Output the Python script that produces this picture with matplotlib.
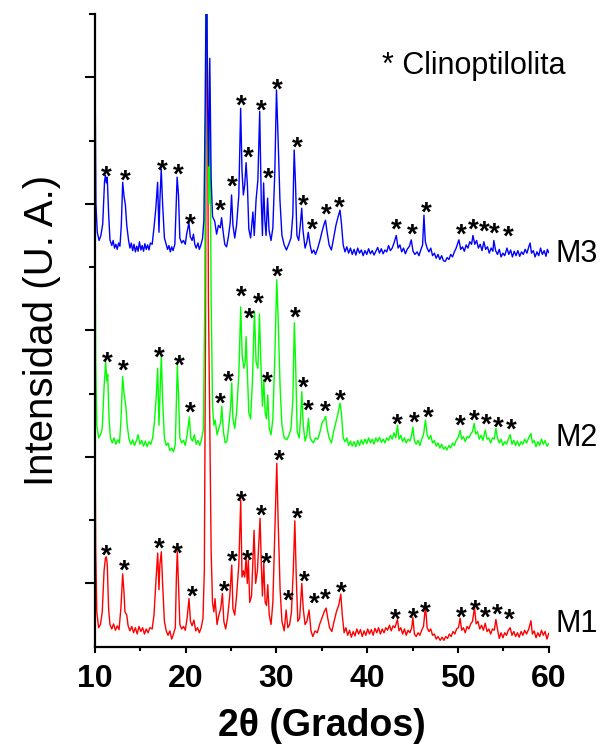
"""
DRX de las muestras M1, M2 y M3 con los picos de clinoptilolita marcados.
"""
# Imports ---------------------------------------------------------------------

import numpy as np
import matplotlib
matplotlib.use("Agg")
import matplotlib.pyplot as plt
from matplotlib.ticker import FixedLocator
from matplotlib.transforms import offset_copy

plt.rcParams['font.family'] = ['Liberation Sans', 'DejaVu Sans']

# Data (2theta in degrees, intensity in stacked arbitrary units) ---------------

m3_pts = [
    (10.00, 9.30), (10.10, 7.00), (10.25, 6.55), (10.45, 6.42), (10.65, 6.50),
    (10.85, 6.68), (11.05, 7.35), (11.15, 7.45), (11.25, 7.33), (11.35, 7.42),
    (11.50, 6.85), (11.65, 6.43), (11.85, 6.34), (12.00, 6.42), (12.15, 6.30),
    (12.30, 6.36), (12.45, 6.28), (12.60, 6.38), (12.75, 6.33), (12.90, 6.66),
    (13.05, 7.34), (13.20, 7.12), (13.35, 6.98), (13.50, 6.66), (13.70, 6.42),
    (13.85, 6.30), (14.00, 6.38), (14.15, 6.26), (14.30, 6.36), (14.45, 6.24),
    (14.60, 6.33), (14.75, 6.25), (14.90, 6.40), (15.05, 6.27), (15.20, 6.34),
    (15.35, 6.25), (15.50, 6.37), (15.65, 6.28), (15.80, 6.35), (15.95, 6.27),
    (16.10, 6.38), (16.30, 6.36), (16.50, 6.62), (16.70, 6.92), (16.90, 7.34),
    (17.05, 6.55), (17.15, 7.05), (17.30, 7.55), (17.45, 7.00), (17.65, 6.46),
    (17.85, 6.36), (18.00, 6.28), (18.15, 6.34), (18.30, 6.24), (18.45, 6.32),
    (18.60, 6.26), (18.80, 6.36), (18.95, 7.00), (19.05, 7.42), (19.20, 7.14),
    (19.35, 6.46), (19.55, 6.38), (19.75, 6.42), (19.95, 6.36), (20.10, 6.52),
    (20.35, 6.70), (20.50, 6.48), (20.70, 6.42), (20.85, 6.52), (21.00, 6.36),
    (21.15, 6.30), (21.35, 6.38), (21.50, 6.28), (21.65, 6.34), (21.85, 6.45),
    (22.00, 6.74), (22.15, 8.60), (22.28, 11.0), (22.42, 8.50), (22.52, 7.60),
    (22.65, 9.30), (22.80, 7.40), (22.95, 6.80), (23.20, 6.72), (23.40, 6.52),
    (23.60, 6.66), (23.80, 6.62), (23.95, 6.78), (24.10, 6.58), (24.30, 6.36),
    (24.50, 6.32), (24.70, 6.48), (24.90, 6.70), (25.05, 7.14), (25.20, 6.66),
    (25.40, 6.46), (25.60, 6.66), (25.85, 7.14), (26.05, 8.51), (26.20, 7.52),
    (26.35, 7.14), (26.50, 7.30), (26.65, 7.65), (26.80, 7.28), (26.95, 6.60),
    (27.15, 6.46), (27.40, 6.87), (27.55, 6.50), (27.75, 7.06), (27.95, 7.38),
    (28.15, 8.46), (28.32, 7.06), (28.45, 6.50), (28.58, 7.33), (28.72, 6.74),
    (28.85, 6.50), (29.02, 7.09), (29.18, 6.58), (29.40, 6.42), (29.60, 6.62),
    (29.82, 7.53), (30.00, 8.80), (30.15, 8.15), (30.38, 7.06), (30.60, 6.50),
    (30.85, 6.35), (31.10, 6.27), (31.35, 6.36), (31.60, 6.46), (31.80, 6.82),
    (31.95, 7.85), (32.10, 7.30), (32.25, 6.50), (32.45, 6.42), (32.62, 6.66),
    (32.78, 6.93), (32.92, 6.58), (33.15, 6.30), (33.35, 6.40), (33.50, 6.55),
    (33.70, 6.35), (33.90, 6.22), (34.10, 6.27), (34.30, 6.20), (34.55, 6.30),
    (34.80, 6.43), (35.00, 6.55), (35.25, 6.68), (35.40, 6.74), (35.55, 6.58),
    (35.80, 6.35), (36.05, 6.27), (36.30, 6.46), (36.55, 6.66), (36.80, 6.80),
    (37.00, 6.90), (37.15, 6.70), (37.35, 6.35), (37.55, 6.24), (37.75, 6.32),
    (37.95, 6.22), (38.15, 6.30), (38.35, 6.20), (38.55, 6.28), (38.75, 6.19),
    (38.95, 6.30), (39.15, 6.22), (39.35, 6.27), (39.55, 6.18), (39.75, 6.26),
    (39.95, 6.20), (40.15, 6.29), (40.35, 6.21), (40.55, 6.26), (40.75, 6.19),
    (40.95, 6.25), (41.15, 6.31), (41.35, 6.22), (41.55, 6.29), (41.75, 6.21),
    (41.95, 6.27), (42.15, 6.24), (42.35, 6.34), (42.55, 6.26), (42.75, 6.30),
    (42.95, 6.38), (43.20, 6.50), (43.40, 6.30), (43.60, 6.35), (43.80, 6.24),
    (44.00, 6.30), (44.20, 6.21), (44.40, 6.28), (44.65, 6.33), (44.85, 6.43),
    (45.05, 6.25), (45.25, 6.20), (45.50, 6.24), (45.70, 6.18), (45.90, 6.27),
    (46.10, 6.35), (46.25, 6.82), (46.40, 6.40), (46.60, 6.30), (46.80, 6.24),
    (47.00, 6.30), (47.20, 6.18), (47.40, 6.22), (47.60, 6.14), (47.80, 6.20),
    (48.00, 6.12), (48.20, 6.18), (48.40, 6.10), (48.60, 6.09), (48.80, 6.15),
    (49.00, 6.12), (49.20, 6.20), (49.40, 6.16), (49.60, 6.24), (49.80, 6.30),
    (50.10, 6.43), (50.30, 6.28), (50.50, 6.32), (50.70, 6.25), (50.90, 6.35),
    (51.10, 6.30), (51.30, 6.40), (51.50, 6.36), (51.65, 6.50), (51.85, 6.36),
    (52.05, 6.42), (52.25, 6.30), (52.45, 6.36), (52.65, 6.26), (52.85, 6.40),
    (53.05, 6.28), (53.25, 6.32), (53.45, 6.22), (53.65, 6.30), (53.85, 6.25),
    (53.95, 6.42), (54.15, 6.26), (54.35, 6.20), (54.55, 6.28), (54.75, 6.16),
    (54.95, 6.22), (55.15, 6.18), (55.40, 6.30), (55.60, 6.20), (55.80, 6.27),
    (56.00, 6.16), (56.20, 6.25), (56.40, 6.18), (56.60, 6.26), (56.80, 6.17),
    (57.00, 6.24), (57.20, 6.20), (57.40, 6.28), (57.60, 6.22), (57.80, 6.32),
    (57.95, 6.38), (58.10, 6.22), (58.30, 6.26), (58.50, 6.16), (58.70, 6.24),
    (58.90, 6.18), (59.10, 6.30), (59.30, 6.20), (59.50, 6.26), (59.70, 6.17),
    (59.85, 6.28), (60.00, 6.23),
]

m2_pts = [
    (10.00, 6.74), (10.08, 4.50), (10.20, 3.50), (10.40, 3.30), (10.60, 3.35),
    (10.80, 3.45), (11.00, 4.10), (11.18, 4.50), (11.30, 4.20), (11.40, 4.30),
    (11.55, 3.60), (11.70, 3.30), (11.90, 3.22), (12.10, 3.30), (12.30, 3.20),
    (12.50, 3.27), (12.70, 3.22), (12.85, 3.55), (13.05, 4.27), (13.20, 4.00),
    (13.40, 3.80), (13.55, 3.50), (13.75, 3.28), (13.95, 3.20), (14.15, 3.27),
    (14.35, 3.18), (14.55, 3.25), (14.75, 3.35), (14.95, 3.20), (15.15, 3.26),
    (15.35, 3.17), (15.55, 3.25), (15.75, 3.16), (15.95, 3.24), (16.15, 3.20),
    (16.35, 3.30), (16.55, 3.55), (16.75, 3.95), (16.91, 4.40), (17.05, 3.50),
    (17.18, 4.05), (17.31, 4.61), (17.45, 3.90), (17.65, 3.30), (17.85, 3.18),
    (18.05, 3.22), (18.25, 3.10), (18.45, 3.14), (18.65, 3.08), (18.85, 3.20),
    (18.97, 3.90), (19.07, 4.44), (19.20, 4.00), (19.35, 3.30), (19.55, 3.22),
    (19.75, 3.26), (19.95, 3.18), (20.15, 3.35), (20.40, 3.63), (20.55, 3.30),
    (20.75, 3.25), (20.95, 3.35), (21.15, 3.20), (21.35, 3.26), (21.55, 3.18),
    (21.75, 3.28), (21.95, 3.45), (22.10, 5.50), (22.22, 11.0), (22.35, 10.0),
    (22.45, 8.00), (22.55, 7.00), (22.65, 8.64), (22.80, 5.50), (22.95, 3.80),
    (23.10, 3.50), (23.25, 3.58), (23.45, 3.35), (23.65, 3.45), (23.85, 3.55),
    (23.97, 3.80), (24.15, 3.40), (24.35, 3.22), (24.55, 3.25), (24.75, 3.50),
    (24.95, 3.80), (25.07, 4.17), (25.20, 3.60), (25.40, 3.45), (25.60, 3.70),
    (25.85, 4.30), (26.06, 5.37), (26.22, 4.60), (26.40, 4.40), (26.55, 4.50),
    (26.65, 4.90), (26.80, 4.30), (26.95, 3.70), (27.15, 3.60), (27.35, 4.20),
    (27.57, 5.30), (27.75, 4.50), (27.95, 4.40), (28.12, 5.26), (28.30, 4.40),
    (28.45, 3.80), (28.60, 4.22), (28.75, 3.70), (28.90, 3.60), (29.04, 3.98),
    (29.20, 3.45), (29.40, 3.35), (29.60, 3.60), (29.82, 4.60), (30.03, 5.80),
    (30.18, 5.20), (30.40, 4.10), (30.60, 3.50), (30.85, 3.30), (31.14, 3.27),
    (31.40, 3.35), (31.60, 3.45), (31.80, 3.90), (31.97, 5.12), (32.12, 4.40),
    (32.28, 3.40), (32.50, 3.30), (32.65, 3.60), (32.79, 4.03), (32.95, 3.50),
    (33.15, 3.25), (33.35, 3.35), (33.52, 3.61), (33.70, 3.30), (33.90, 3.25),
    (34.07, 3.22), (34.30, 3.30), (34.55, 3.28), (34.80, 3.40), (35.05, 3.55),
    (35.25, 3.58), (35.42, 3.64), (35.58, 3.45), (35.80, 3.30), (36.05, 3.22),
    (36.30, 3.40), (36.55, 3.55), (36.80, 3.70), (37.00, 3.85), (37.15, 3.70),
    (37.35, 3.30), (37.55, 3.24), (37.75, 3.30), (37.95, 3.18), (38.15, 3.25),
    (38.35, 3.17), (38.55, 3.24), (38.75, 3.16), (38.95, 3.26), (39.15, 3.18),
    (39.35, 3.27), (39.55, 3.20), (39.75, 3.28), (39.95, 3.21), (40.15, 3.30),
    (40.35, 3.22), (40.55, 3.28), (40.75, 3.20), (40.95, 3.30), (41.15, 3.24),
    (41.35, 3.31), (41.55, 3.23), (41.75, 3.28), (41.95, 3.22), (42.15, 3.30),
    (42.35, 3.26), (42.55, 3.34), (42.75, 3.28), (42.95, 3.38), (43.15, 3.30),
    (43.33, 3.50), (43.50, 3.28), (43.70, 3.34), (43.90, 3.24), (44.10, 3.30),
    (44.30, 3.22), (44.50, 3.28), (44.70, 3.25), (44.90, 3.35), (45.03, 3.47),
    (45.20, 3.25), (45.40, 3.20), (45.60, 3.26), (45.80, 3.18), (46.00, 3.28),
    (46.20, 3.35), (46.42, 3.58), (46.60, 3.35), (46.80, 3.28), (47.00, 3.34),
    (47.20, 3.22), (47.40, 3.26), (47.60, 3.17), (47.80, 3.22), (48.00, 3.14),
    (48.20, 3.20), (48.40, 3.12), (48.60, 3.16), (48.78, 3.11), (49.00, 3.18),
    (49.20, 3.14), (49.40, 3.22), (49.60, 3.18), (49.80, 3.26), (50.00, 3.30),
    (50.24, 3.42), (50.40, 3.28), (50.60, 3.32), (50.80, 3.24), (51.00, 3.32),
    (51.20, 3.30), (51.40, 3.36), (51.60, 3.40), (51.79, 3.53), (51.95, 3.36),
    (52.15, 3.40), (52.35, 3.28), (52.55, 3.34), (52.75, 3.26), (52.90, 3.36),
    (53.00, 3.42), (53.20, 3.28), (53.40, 3.30), (53.60, 3.22), (53.80, 3.30),
    (54.00, 3.28), (54.18, 3.45), (54.35, 3.30), (54.55, 3.22), (54.75, 3.28),
    (54.95, 3.18), (55.15, 3.24), (55.35, 3.20), (55.55, 3.28), (55.75, 3.35),
    (55.95, 3.20), (56.15, 3.26), (56.35, 3.18), (56.55, 3.25), (56.75, 3.17),
    (56.95, 3.24), (57.15, 3.20), (57.35, 3.28), (57.55, 3.22), (57.80, 3.30),
    (58.04, 3.37), (58.20, 3.22), (58.40, 3.26), (58.60, 3.16), (58.80, 3.24),
    (59.00, 3.18), (59.20, 3.28), (59.40, 3.20), (59.60, 3.26), (59.80, 3.17),
    (60.00, 3.21),
]

m1_pts = [
    (10.00, 3.30), (10.08, 1.50), (10.20, 0.55), (10.40, 0.30), (10.60, 0.35),
    (10.80, 0.55), (11.00, 1.20), (11.15, 1.40), (11.25, 1.42), (11.35, 1.30),
    (11.50, 0.60), (11.65, 0.35), (11.85, 0.28), (12.05, 0.36), (12.25, 0.26),
    (12.45, 0.33), (12.65, 0.27), (12.85, 0.60), (13.05, 1.15), (13.20, 0.85),
    (13.30, 0.55), (13.50, 0.50), (13.65, 0.33), (13.85, 0.25), (14.05, 0.32),
    (14.25, 0.22), (14.45, 0.30), (14.65, 0.20), (14.85, 0.32), (15.05, 0.24),
    (15.25, 0.30), (15.45, 0.20), (15.65, 0.28), (15.85, 0.22), (16.05, 0.30),
    (16.30, 0.28), (16.50, 0.50), (16.70, 1.00), (16.91, 1.48), (17.05, 0.90),
    (17.15, 1.30), (17.31, 1.50), (17.45, 1.00), (17.65, 0.40), (17.85, 0.25),
    (18.05, 0.18), (18.25, 0.25), (18.45, 0.12), (18.65, 0.20), (18.85, 0.30),
    (18.97, 1.10), (19.07, 1.51), (19.20, 1.00), (19.35, 0.35), (19.55, 0.28),
    (19.75, 0.32), (19.95, 0.26), (20.15, 0.45), (20.36, 0.76), (20.52, 0.40),
    (20.70, 0.33), (20.90, 0.42), (21.10, 0.25), (21.30, 0.30), (21.50, 0.22),
    (21.70, 0.30), (21.90, 0.45), (22.05, 1.20), (22.18, 5.00), (22.28, 11.0),
    (22.40, 9.00), (22.50, 5.50), (22.68, 3.10), (22.80, 1.50), (22.95, 0.70),
    (23.10, 0.55), (23.23, 0.76), (23.45, 0.35), (23.65, 0.50), (23.85, 0.60),
    (24.04, 0.84), (24.20, 0.40), (24.40, 0.28), (24.60, 0.45), (24.85, 0.80),
    (25.07, 1.29), (25.20, 0.60), (25.40, 0.50), (25.60, 0.80), (25.85, 1.30),
    (26.06, 2.32), (26.20, 1.10), (26.35, 1.20), (26.50, 1.10), (26.65, 1.40),
    (26.78, 1.00), (26.90, 1.37), (27.05, 0.70), (27.25, 0.80), (27.53, 1.84),
    (27.70, 1.00), (27.90, 1.20), (28.19, 2.03), (28.35, 1.20), (28.45, 0.80),
    (28.60, 1.32), (28.75, 0.70), (28.90, 0.65), (29.04, 0.98), (29.20, 0.50),
    (29.40, 0.35), (29.60, 0.70), (29.82, 1.80), (30.03, 2.90), (30.18, 2.00),
    (30.40, 0.90), (30.60, 0.40), (30.85, 0.25), (31.06, 0.58), (31.25, 0.30),
    (31.45, 0.35), (31.65, 0.55), (31.85, 1.20), (32.02, 1.99), (32.18, 1.10),
    (32.35, 0.40), (32.55, 0.45), (32.70, 0.80), (32.79, 1.00), (32.95, 0.60),
    (33.15, 0.35), (33.35, 0.40), (33.59, 0.58), (33.80, 0.25), (34.00, 0.16),
    (34.25, 0.25), (34.50, 0.22), (34.75, 0.35), (35.00, 0.45), (35.25, 0.55),
    (35.47, 0.61), (35.65, 0.45), (35.85, 0.30), (36.10, 0.24), (36.35, 0.40),
    (36.60, 0.55), (36.85, 0.65), (37.09, 0.83), (37.25, 0.50), (37.45, 0.22),
    (37.65, 0.30), (37.85, 0.18), (38.05, 0.26), (38.25, 0.15), (38.45, 0.24),
    (38.65, 0.17), (38.85, 0.28), (39.05, 0.20), (39.25, 0.27), (39.45, 0.16),
    (39.65, 0.25), (39.85, 0.18), (40.05, 0.28), (40.25, 0.20), (40.45, 0.27),
    (40.65, 0.18), (40.85, 0.29), (41.05, 0.22), (41.25, 0.30), (41.45, 0.20),
    (41.65, 0.28), (41.85, 0.22), (42.05, 0.30), (42.25, 0.26), (42.45, 0.34),
    (42.65, 0.25), (42.85, 0.33), (43.05, 0.30), (43.33, 0.43), (43.50, 0.25),
    (43.70, 0.30), (43.90, 0.20), (44.10, 0.28), (44.30, 0.18), (44.50, 0.26),
    (44.70, 0.22), (44.90, 0.30), (45.03, 0.46), (45.20, 0.20), (45.40, 0.16),
    (45.60, 0.22), (45.80, 0.18), (46.00, 0.26), (46.20, 0.32), (46.42, 0.64),
    (46.60, 0.30), (46.80, 0.24), (47.00, 0.28), (47.20, 0.18), (47.40, 0.20),
    (47.60, 0.12), (47.80, 0.16), (48.04, 0.10), (48.25, 0.15), (48.45, 0.10),
    (48.65, 0.16), (48.85, 0.13), (49.05, 0.20), (49.25, 0.16), (49.45, 0.24),
    (49.65, 0.20), (49.85, 0.28), (50.05, 0.30), (50.24, 0.45), (50.40, 0.26),
    (50.60, 0.30), (50.80, 0.22), (51.00, 0.32), (51.20, 0.28), (51.40, 0.36),
    (51.60, 0.40), (51.82, 0.62), (52.00, 0.36), (52.20, 0.40), (52.40, 0.28),
    (52.60, 0.34), (52.80, 0.26), (53.00, 0.37), (53.20, 0.24), (53.40, 0.28),
    (53.60, 0.20), (53.80, 0.28), (54.00, 0.26), (54.18, 0.43), (54.35, 0.28),
    (54.55, 0.13), (54.75, 0.22), (54.95, 0.14), (55.15, 0.22), (55.35, 0.18),
    (55.55, 0.26), (55.75, 0.30), (55.95, 0.18), (56.15, 0.24), (56.35, 0.16),
    (56.55, 0.22), (56.75, 0.15), (56.95, 0.24), (57.15, 0.18), (57.35, 0.26),
    (57.55, 0.20), (57.80, 0.28), (58.04, 0.41), (58.20, 0.20), (58.40, 0.25),
    (58.60, 0.14), (58.80, 0.22), (59.00, 0.16), (59.20, 0.26), (59.40, 0.18),
    (59.60, 0.24), (59.80, 0.12), (60.00, 0.21),
]

# clinoptilolite marks (2theta, height of the asterisk centre)
m3_stars = [
    (11.21, 7.56), (13.34, 7.49), (17.39, 7.65), (19.18, 7.58), (20.55, 6.79),
    (23.86, 7.02), (25.10, 7.39), (26.13, 8.68), (26.87, 7.86), (28.34, 8.59),
    (29.07, 7.52), (30.14, 8.93), (32.24, 8.01), (32.90, 7.10), (33.89, 6.72),
    (35.45, 6.95), (36.94, 7.07), (43.22, 6.72), (44.95, 6.64), (46.49, 6.98),
    (50.35, 6.64), (51.64, 6.71), (52.89, 6.68), (54.02, 6.66), (55.50, 6.60),
]
m2_stars = [
    (11.36, 4.61), (13.12, 4.49), (17.09, 4.69), (19.29, 4.57), (20.47, 3.83),
    (23.86, 3.96), (24.74, 4.32), (26.13, 5.66), (27.01, 5.31), (28.00, 5.54),
    (28.96, 4.29), (30.10, 5.98), (32.02, 5.32), (32.90, 4.22), (33.52, 3.85),
    (35.36, 3.84), (37.01, 4.01), (43.26, 3.64), (45.17, 3.67), (46.75, 3.75),
    (50.24, 3.62), (51.82, 3.70), (53.11, 3.63), (54.47, 3.59), (55.87, 3.56),
]
m1_stars = [
    (11.29, 1.57), (13.23, 1.32), (17.06, 1.67), (19.04, 1.60), (20.77, 0.91),
    (24.22, 1.00), (25.18, 1.47), (26.10, 2.42), (26.79, 1.48), (28.27, 2.19),
    (28.89, 1.43), (30.29, 3.06), (31.28, 0.85), (32.24, 2.14), (33.04, 1.15),
    (34.11, 0.80), (35.41, 0.86), (37.09, 0.98), (43.04, 0.55), (45.09, 0.57),
    (46.38, 0.67), (50.39, 0.59), (51.90, 0.70), (53.00, 0.58), (54.36, 0.63),
    (55.64, 0.55),
]

samples = ["M1", "M2", "M3"]
sample_colors = ["#ff0000", "#00ff00", "#0000ff"]
label_heights = [0.36, 3.30, 6.20]

x_major = [10, 20, 30, 40, 50, 60]
x_minor = [15, 25, 35, 45, 55]
y_major = [1, 3, 5, 7, 9]
y_minor = [2, 4, 6, 8, 10]

# Figure ----------------------------------------------------------------------

fig = plt.figure(figsize=(6.02, 7.44), dpi=100)
ax = fig.add_axes([0.1578, 0.1308, 0.7537, 0.8504])

traces = [m1_pts, m2_pts, m3_pts]
stars = [m1_stars, m2_stars, m3_stars]

for pts, color in zip(traces, sample_colors):
    arr = np.array(pts)
    ax.plot(arr[:, 0], arr[:, 1], color=color, lw=1.0)

star_size = 20
star_tr = offset_copy(ax.transData, fig=fig, x=0, y=-0.57 * star_size,
                      units='points')
for marks in stars:
    for tt, hh in marks:
        ax.text(tt, hh, "*", fontsize=star_size, fontweight='bold',
                ha='center', va='baseline', transform=star_tr)

for name, hh in zip(samples, label_heights):
    ax.text(60.7, hh, name, fontsize=22, ha='left', va='center',
            clip_on=False)

ax.text(41.6, 9.05, "* Clinoptilolita", fontsize=22, ha='left',
        va='baseline')

ax.set_xlim(10, 60)
ax.set_ylim(0, 10)

for side in ['top', 'right']:
    ax.spines[side].set_visible(False)
for side in ['left', 'bottom']:
    ax.spines[side].set_linewidth(1.6)

ax.xaxis.set_major_locator(FixedLocator(x_major))
ax.xaxis.set_minor_locator(FixedLocator(x_minor))
ax.yaxis.set_major_locator(FixedLocator(y_major))
ax.yaxis.set_minor_locator(FixedLocator(y_minor))
ax.set_yticklabels([])

ax.tick_params(axis='x', which='major', direction='out', length=4.5,
               width=1.5, pad=8, labelsize=23)
ax.tick_params(axis='x', which='minor', direction='out', length=3,
               width=1.5)
ax.tick_params(axis='y', which='major', direction='out', length=7,
               width=1.5)
ax.tick_params(axis='y', which='minor', direction='out', length=4.5,
               width=1.5)
for lab in ax.get_xticklabels():
    lab.set_fontweight('bold')

ax.set_xlabel("2θ (Grados)", fontsize=27, fontweight='bold', labelpad=10)
ax.set_ylabel("Intensidad (U. A.)", fontsize=29, labelpad=14)

fig.savefig("out.png", dpi=100)
